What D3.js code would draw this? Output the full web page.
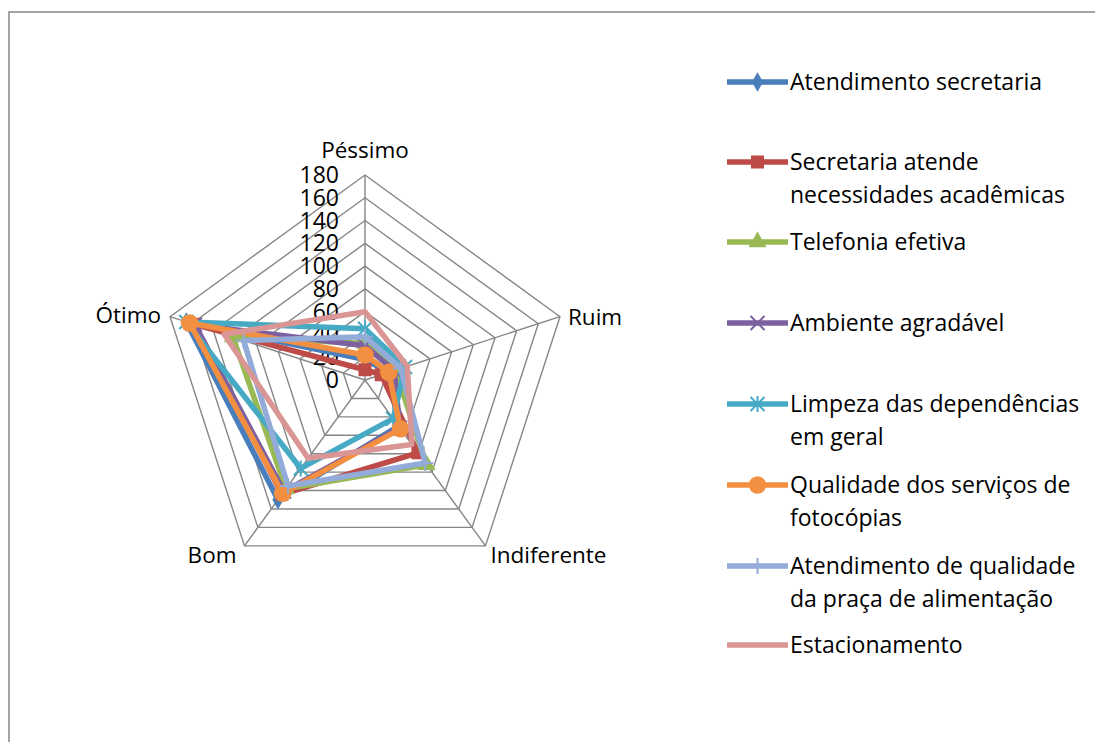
<!DOCTYPE html>
<html>
<head>
<meta charset="utf-8">
<script src="https://cdn.jsdelivr.net/npm/d3@7"></script>
<style>
  html, body { margin: 0; padding: 0; background: #fff; }
  svg text { font-family: "Open Sans", "Liberation Sans", sans-serif; fill: #000; }
</style>
</head>
<body>
<svg id="chart" width="1095" height="742"></svg>
<script>
// Rating categories (one spoke each, clockwise from the top)
const categories = ["Péssimo", "Ruim", "Indiferente", "Bom", "Ótimo"];

// Radial tick labels
const tickValues = [0, 20, 40, 60, 80, 100, 120, 140, 160, 180];

// Series names (legend lines; "\n" splits a label over two lines)
const seriesNames = [
  "Atendimento secretaria",
  "Secretaria atende\nnecessidades acadêmicas",
  "Telefonia efetiva",
  "Ambiente agradável",
  "Limpeza das dependências\nem geral",
  "Qualidade dos serviços de\nfotocópias",
  "Atendimento de qualidade\nda praça de alimentação",
  "Estacionamento"
];

// Answers per category, one array per series
const atendimentoSecretaria = [18, 22, 50, 130, 165];
const secretariaNecessidades = [9, 15, 79, 124, 158];
const telefoniaEfetiva = [32, 28, 92, 118, 122];
const ambienteAgradavel = [30, 27, 52, 121, 157];
const limpezaDependencias = [45, 37, 42, 96, 165];
const qualidadeFotocopias = [22, 22, 53, 123, 162];
const pracaAlimentacao = [38, 33, 90, 115, 112];
const estacionamento = [60, 39, 70, 85, 130];

const seriesValues = [
  atendimentoSecretaria, secretariaNecessidades, telefoniaEfetiva, ambienteAgradavel,
  limpezaDependencias, qualidadeFotocopias, pracaAlimentacao, estacionamento
];

const seriesColors = ["#4A7EBB", "#BE4B48", "#98B954", "#7D60A0", "#46AAC5", "#F38F41", "#93ABD8", "#D99694"];
const seriesMarkers = ["diamond", "square", "triangle", "x", "asterisk", "circle", "plus", "none"];

const svg = d3.select("#chart");

// Outer chart frame
svg.append("path")
  .attr("d", "M9,760 L9,12 L1100,12")
  .attr("fill", "none")
  .attr("stroke", "#878787")
  .attr("stroke-width", 1.5);

const cx = 365, cy = 380, R = 205;
const r = d3.scaleLinear().domain([0, 180]).range([0, R]);
const angle = d3.scalePoint().domain(categories).range([0, 2 * Math.PI * (categories.length - 1) / categories.length]);

function pt(cat, v) {
  const a = angle(cat);
  return [cx + r(v) * Math.sin(a), cy - r(v) * Math.cos(a)];
}

// Grid rings
const grid = svg.append("g");
tickValues.filter(t => t > 0).forEach(t => {
  grid.append("path")
    .attr("d", d3.line()(categories.map(c => pt(c, t))) + "Z")
    .attr("fill", "none")
    .attr("stroke", "#868686")
    .attr("stroke-width", 1.4);
});
// Spokes
categories.forEach(c => {
  const p = pt(c, 180);
  grid.append("line")
    .attr("x1", cx).attr("y1", cy).attr("x2", p[0]).attr("y2", p[1])
    .attr("stroke", "#868686").attr("stroke-width", 1.4);
});

// Tick labels along the top spoke
svg.append("g").selectAll("text").data(tickValues).join("text")
  .attr("x", cx - 26)
  .attr("y", d => cy - r(d))
  .attr("dy", "0.35em")
  .attr("text-anchor", "end")
  .attr("font-size", 23)
  .text(d => d);

// Category labels
const catLabelPos = {
  "Péssimo": { dx: 0, dy: -25, anchor: "middle" },
  "Ruim": { dx: 8, dy: 0, anchor: "start" },
  "Indiferente": { dx: 5, dy: 9, anchor: "start" },
  "Bom": { dx: -8, dy: 9, anchor: "end" },
  "Ótimo": { dx: -9, dy: -2, anchor: "end" }
};
svg.append("g").selectAll("text").data(categories).join("text")
  .attr("x", d => pt(d, 180)[0] + catLabelPos[d].dx)
  .attr("y", d => pt(d, 180)[1] + catLabelPos[d].dy)
  .attr("dy", "0.35em")
  .attr("text-anchor", d => catLabelPos[d].anchor)
  .attr("font-size", 22.5)
  .text(d => d);

// Marker drawing
function drawMarker(g, type, x, y, color) {
  const sym = {
    diamond: [d3.symbolDiamond, 110],
    square: [d3.symbolSquare, 170],
    triangle: [d3.symbolTriangle, 140],
    circle: [d3.symbolCircle, 240]
  };
  if (sym[type]) {
    g.append("path")
      .attr("d", d3.symbol(sym[type][0], sym[type][1])())
      .attr("transform", `translate(${x},${y})`)
      .attr("fill", color);
  } else if (type === "x") {
    const s = 7;
    g.append("path")
      .attr("d", `M${x - s},${y - s}L${x + s},${y + s}M${x - s},${y + s}L${x + s},${y - s}`)
      .attr("stroke", color).attr("stroke-width", 2).attr("fill", "none");
  } else if (type === "asterisk") {
    const s = 7;
    g.append("path")
      .attr("d", `M${x - s},${y - s}L${x + s},${y + s}M${x - s},${y + s}L${x + s},${y - s}M${x},${y - s - 1}L${x},${y + s + 1}`)
      .attr("stroke", color).attr("stroke-width", 2).attr("fill", "none");
  } else if (type === "plus") {
    const s = 8;
    g.append("path")
      .attr("d", `M${x},${y - s}L${x},${y + s}M${x - s},${y}L${x + s},${y}`)
      .attr("stroke", color).attr("stroke-width", 2).attr("fill", "none");
  }
}

// Series polygons
const plot = svg.append("g");
seriesValues.forEach((vals, i) => {
  const pts = categories.map((c, k) => pt(c, vals[k]));
  const g = plot.append("g");
  g.append("path")
    .attr("d", d3.line()(pts) + "Z")
    .attr("fill", "none")
    .attr("stroke", seriesColors[i])
    .attr("stroke-width", 5.5)
    .attr("stroke-linejoin", "round");
  pts.forEach(p => drawMarker(g, seriesMarkers[i], p[0], p[1], seriesColors[i]));
});

// Legend
const legendRows = [82, 162, 242, 323, 404, 485, 566, 645];
const legend = svg.append("g");
seriesNames.forEach((name, i) => {
  const y = legendRows[i];
  const g = legend.append("g");
  g.append("line")
    .attr("x1", 727).attr("x2", 788).attr("y1", y).attr("y2", y)
    .attr("stroke", seriesColors[i]).attr("stroke-width", 5.5);
  drawMarker(g, seriesMarkers[i], 757.5, y, seriesColors[i]);
  name.split("\n").forEach((line, k) => {
    g.append("text")
      .attr("x", 790)
      .attr("y", y + k * 33)
      .attr("dy", "0.35em")
      .attr("font-size", 23)
      .text(line);
  });
});
</script>
</body>
</html>
